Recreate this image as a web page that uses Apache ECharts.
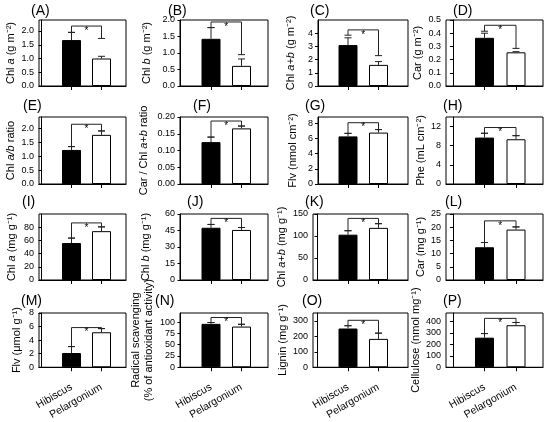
<!DOCTYPE html>
<html><head><meta charset="utf-8">
<script src="https://cdn.jsdelivr.net/npm/echarts@6/dist/echarts.min.js"></script>
<style>html,body{margin:0;padding:0;background:#fff}#c{width:550px;height:422px}</style>
</head><body><div id="c"></div>
<script>
// ---------------- data ----------------
const categories = ['Hibiscus', 'Pelargonium'];
const panelLabels = ['(A)','(B)','(C)','(D)','(E)','(F)','(G)','(H)','(I)','(J)','(K)','(L)','(M)','(N)','(O)','(P)'];
const axisNames = [
  'Chl {i|a} (g m⁻²)', 'Chl {i|b} (g m⁻²)', 'Chl {i|a+b} (g m⁻²)', 'Car (g m⁻²)',
  'Chl {i|a/b} ratio', 'Car / Chl {i|a+b} ratio', 'Flv (nmol cm⁻²)', 'Phe (mL cm⁻²)',
  'Chl {i|a} (mg g⁻¹)', 'Chl {i|b} (mg g⁻¹)', 'Chl {i|a+b} (mg g⁻¹)', 'Car (mg g⁻¹)',
  'Flv (μmol g⁻¹)', 'Radical scavenging\n(% of antioxidant activity)', 'Lignin (mg g⁻¹)', 'Cellulose (nmol mg⁻¹)'
];
const hibiscusValues    = [1.67, 1.43, 3.1, 0.365, 1.22, 0.125, 6.25, 9.7, 56, 47.5, 103, 12.4, 2.1, 96, 250, 259];
const pelargoniumValues = [1.0, 0.61, 1.6, 0.255, 1.76, 0.166, 6.75, 9.35, 74, 45.5, 118.5, 19.1, 5.16, 90, 183, 368];
const hibiscusErrTop    = [1.95, 1.77, 3.65, 0.40, 1.34, 0.14, 6.65, 10.6, 63.5, 50.5, 112, 14.2, 3.05, 99, 268, 295];
const pelargoniumErrTop = [1.08, 0.82, 1.85, 0.26, 1.9, 0.173, 7.15, 10.1, 80.5, 47.7, 128, 20.1, 5.7, 95, 220, 392];
const bracketTop        = [2.18, 1.94, 4.25, 0.46, 2.14, 0.188, 8.05, 11.8, 86.5, 56, 140, 22.4, 5.85, 110, 303, 428];
const hibiscusLegEnd    = [1.95, 1.77, 3.85, 0.415, 1.34, 0.14, 6.65, 10.6, 63.5, 50.5, 112, 14.2, 3.05, 99, 268, 295];
const pelargoniumLegEnd = [1.73, 0.95, 2.3, 0.285, 1.9, 0.173, 7.15, 10.1, 80.5, 47.7, 128, 20.1, 5.7, 95, 220, 392];
const yMax = [2.4, 2.0, 5, 0.5, 2.4, 0.2, 8.8, 14, 100, 60, 150, 25, 8, 120, 350, 475];
const yTickLabels = [
  ['0.0','0.5','1.0','1.5','2.0'], ['0.0','0.5','1.0','1.5','2.0'], ['0','1','2','3','4'], ['0.0','0.1','0.2','0.3','0.4','0.5'],
  ['0.0','0.5','1.0','1.5','2.0'], ['0.00','0.05','0.10','0.15','0.20'], ['0','2','4','6','8'], ['0','4','8','12'],
  ['0','20','40','60','80'], ['0','15','30','45','60'], ['0','50','100','150'], ['0','5','10','15','20','25'],
  ['0','2','4','6','8'], ['0','25','50','75','100'], ['0','100','200','300'], ['0','100','200','300','400']
];

// ---------------- layout ----------------
const FONT = 'Liberation Sans, Arial, Helvetica, sans-serif';
const boxLeft = [39,180,318,446, 39,180,318,446, 39,180,313,446, 39,180,313,446];
const colRight = [126, 268, 408, 543];
const rowTop = [20, 117, 214, 313];
const rowBottom = [86, 184, 280, 379];
const barCenters = [[71.5, 101.5], [211, 241.5], [348, 378.5], [484.5, 516]];
const titleLeft = [31,168,310,453, 23,193,305,443, 22,187,305,445, 21,155,302,443];
const titleCenterY = [11, 106, 202, 301];
const nameGaps = [21,27,21,19, 21,30,19,18, 21,28,25,17, 16,25,21,19];

const option = {
  animation: false,
  textStyle: { fontFamily: FONT },
  title: [], grid: [], xAxis: [], yAxis: [], series: []
};

for (let i = 0; i < 16; i++) {
  const r = Math.floor(i / 4), c = i % 4;
  const left = boxLeft[i], right = colRight[c], top = rowTop[r], bottom = rowBottom[r];
  const [c1, c2] = barCenters[c];
  const s = c2 - c1;
  const xmin = 1 - (c1 - left) / s;
  const xmax = 2 + (right - c2) / s;
  const ticks = yTickLabels[i].map(parseFloat);
  const labels = yTickLabels[i];

  option.title.push({
    text: panelLabels[i], left: titleLeft[i], top: titleCenterY[r] - 8, padding: 0,
    textStyle: { fontSize: 14, fontWeight: 'normal', color: '#000', lineHeight: 16, fontFamily: FONT }
  });
  option.grid.push({
    left: left, top: top, width: right - left, height: bottom - top,
    show: true, borderColor: '#000', borderWidth: 1, backgroundColor: 'transparent'
  });
  option.xAxis.push({
    type: 'value', gridIndex: i, min: xmin, max: xmax,
    splitLine: { show: false },
    axisLine: { show: true, lineStyle: { color: '#000', width: 1 } },
    axisTick: { show: true, customValues: [1, 2], length: 4, lineStyle: { color: '#000' } },
    axisLabel: {
      show: r === 3, customValues: [1, 2], rotate: 30, margin: 19,
      fontSize: 10.5, color: '#000', fontFamily: FONT,
      formatter: v => categories[Math.round(v) - 1] || ''
    }
  });
  option.yAxis.push({
    type: 'value', gridIndex: i, min: 0, max: yMax[i],
    splitLine: { show: false },
    axisLine: { show: true, lineStyle: { color: '#000', width: 1 } },
    axisTick: { show: true, customValues: ticks, length: 3, lineStyle: { color: '#000' } },
    axisLabel: {
      customValues: ticks, margin: 5, fontSize: 9, color: '#000', fontFamily: FONT,
      formatter: v => { const k = ticks.findIndex(t => Math.abs(t - v) < 1e-9); return k >= 0 ? labels[k] : ''; }
    },
    name: axisNames[i], nameLocation: 'middle', nameGap: nameGaps[i],
    nameTextStyle: {
      fontSize: 11, color: '#000', fontFamily: FONT, lineHeight: 12.5,
      rich: { i: { fontStyle: 'italic', fontSize: 11, color: '#000', fontFamily: FONT } }
    }
  });
  option.series.push({
    type: 'bar', xAxisIndex: i, yAxisIndex: i, barWidth: 19, silent: true,
    itemStyle: { borderColor: '#000', borderWidth: 1 },
    data: [
      { value: [1, hibiscusValues[i]], itemStyle: { color: '#000' } },
      { value: [2, pelargoniumValues[i]], itemStyle: { color: '#fff' } }
    ]
  });
  option.series.push({
    type: 'custom', xAxisIndex: i, yAxisIndex: i, silent: true, z: 5,
    encode: { x: 0, y: 1 },
    data: [[1.5, bracketTop[i]]],
    renderItem: (params, api) => {
      const st = { stroke: '#222', lineWidth: 1 };
      const line = (a, b) => ({ type: 'line', shape: { x1: a[0], y1: a[1], x2: b[0], y2: b[1] }, style: st });
      const kids = [];
      const vals = [hibiscusValues[i], pelargoniumValues[i]];
      const errs = [hibiscusErrTop[i], pelargoniumErrTop[i]];
      const legs = [hibiscusLegEnd[i], pelargoniumLegEnd[i]];
      const bt = bracketTop[i];
      for (let k = 0; k < 2; k++) {
        const x = k + 1;
        const p0 = api.coord([x, vals[k]]);
        const p1 = api.coord([x, errs[k]]);
        kids.push(line(p0, p1));
        kids.push(line([p1[0] - 3.5, p1[1]], [p1[0] + 3.5, p1[1]]));
        const q0 = api.coord([x, legs[k]]);
        const q1 = api.coord([x, bt]);
        kids.push(line(q0, q1));
        kids.push(line([q0[0] - 3.5, q0[1]], [q0[0] + 3.5, q0[1]]));
      }
      const a = api.coord([1, bt]), b = api.coord([2, bt]);
      kids.push(line(a, b));
      kids.push({
        type: 'text',
        style: { text: '*', x: (a[0] + b[0]) / 2, y: a[1], align: 'center', verticalAlign: 'top',
                 fontSize: 10, fill: '#000', fontFamily: FONT }
      });
      return { type: 'group', children: kids };
    }
  });
}

const chart = echarts.init(document.getElementById('c'), null, { renderer: 'canvas' });
chart.setOption(option);
</script>
</body></html>
